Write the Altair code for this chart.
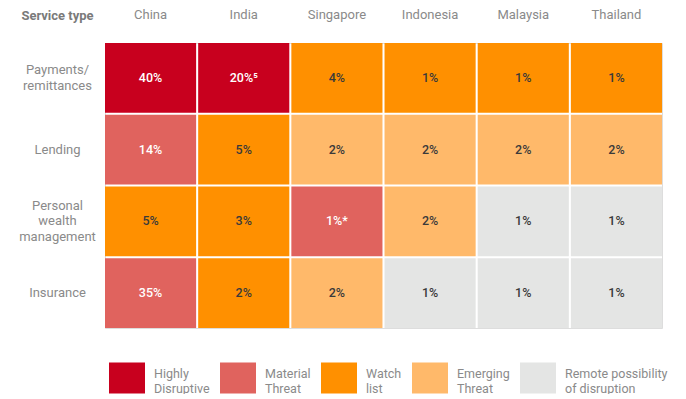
import altair as alt
import pandas as pd

countries = ["China", "India", "Singapore", "Indonesia", "Malaysia", "Thailand"]
services = ["Payments/ remittances", "Lending", "Personal wealth management", "Insurance"]

levels = ["Highly|Disruptive", "Material|Threat", "Watch|list", "Emerging|Threat",
          "Remote possibility|of disruption"]
level_colors = ["#C8001E", "#E0635E", "#FF9000", "#FFB96A", "#E4E5E4"]

labels = [
    ["40%", "20%\u2075", "4%", "1%", "1%", "1%"],
    ["14%", "5%", "2%", "2%", "2%", "2%"],
    ["5%", "3%", "1%*", "2%", "1%", "1%"],
    ["35%", "2%", "2%", "1%", "1%", "1%"],
]
level_idx = [
    [0, 0, 2, 2, 2, 2],
    [1, 2, 3, 3, 3, 3],
    [2, 2, 1, 3, 4, 4],
    [1, 2, 3, 4, 4, 4],
]

rows = []
for i, s in enumerate(services):
    for j, c in enumerate(countries):
        rows.append({"service": s, "country": c, "label": labels[i][j],
                     "level": levels[level_idx[i][j]],
                     "light": level_idx[i][j] < 2})
df = pd.DataFrame(rows)

FONT = "Roboto"
GRAY = "#8a8a8a"

label_offset = {
    "condition": [
        {"test": "datum.value == 'Personal wealth management'", "value": -15.5},
        {"test": "datum.value == 'Payments/ remittances'", "value": -7.75},
    ],
    "value": 0,
}

base = alt.Chart(df).encode(
    x=alt.X("country:N", sort=countries,
            scale=alt.Scale(paddingInner=0.022, paddingOuter=0),
            axis=alt.Axis(orient="top", title=None, domain=False, ticks=False,
                          labelAngle=0, labelPadding=22, labelFontSize=13,
                          labelColor=GRAY, labelFont=FONT)),
    y=alt.Y("service:N", sort=services,
            scale=alt.Scale(paddingInner=0.028, paddingOuter=0),
            axis=alt.Axis(title="Service type", titleAngle=0, titleX=-48, titleY=-28,
                          titleAlign="center", titleBaseline="middle",
                          titleFont=FONT, titleFontSize=13, titleFontWeight="bold",
                          titleColor="#7a7a7a",
                          domain=False, ticks=False, tickSize=0,
                          labelPadding=48, labelAlign="center", labelBaseline="middle",
                          labelFontSize=13, labelColor=GRAY, labelFont=FONT,
                          labelLineHeight=15.5, labelOffset=label_offset,
                          labelExpr="split(datum.label, ' ')")),
)

rects = base.mark_rect().encode(
    color=alt.Color("level:N",
                    scale=alt.Scale(domain=levels, range=level_colors),
                    legend=alt.Legend(orient="none", legendX=4, legendY=317,
                                      direction="horizontal", title=None,
                                      symbolType="M-1,-0.861L1,-0.861L1,0.861L-1,0.861Z",
                                      symbolSize=1296,
                                      symbolStrokeWidth=0, symbolOpacity=1,
                                      labelFont=FONT, labelFontSize=12.5,
                                      labelColor=GRAY, labelOffset=9,
                                      labelBaseline="alphabetic",
                                      columnPadding=10, padding=0,
                                      labelExpr="split(datum.label, '|')")),
)

texts = base.mark_text(font=FONT, fontSize=12.5, fontWeight=500).encode(
    text="label:N",
    color=alt.condition("datum.light", alt.value("#ffffff"), alt.value("#3a3a3a")),
)

chart = (rects + texts).properties(
    width=557, height=285,
    autosize=alt.AutoSizeParams(type="none"),
    padding={"left": 97, "top": 35, "right": 16, "bottom": 66},
).configure_view(stroke=None).configure(font=FONT)

chart.save("out.html", embed_options={"renderer": "svg", "actions": False})
